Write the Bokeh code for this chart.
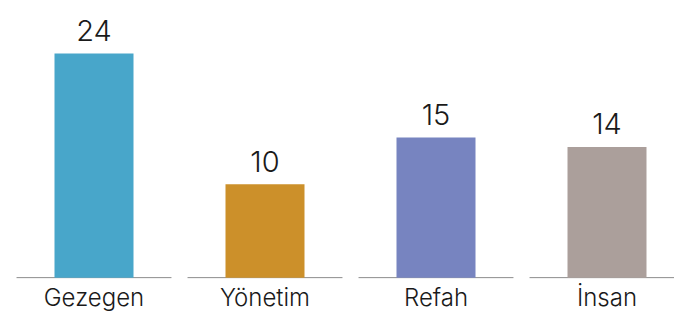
from bokeh.plotting import figure
from bokeh.models import Range1d, FixedTicker, ColumnDataSource
from bokeh.core.properties import value
from bokeh.embed import file_html
from bokeh.resources import INLINE

categories = ["Gezegen", "Yönetim", "Refah", "İnsan"]
values = [24, 10, 15, 14]
colors = ["#48A6CA", "#CC902A", "#7784C0", "#AB9F9B"]

idx = list(range(len(categories)))
FONT = "'Inter Light', Inter, sans-serif"

src = ColumnDataSource(dict(
    x=idx, top=values, color=colors,
    label=[str(v) for v in values],
    x0=[i - 0.453 for i in idx], x1=[i + 0.453 for i in idx],
    zero=[0] * len(idx),
))

p = figure(frame_width=666, frame_height=271,
           x_range=Range1d(-0.5, -0.5 + 666 / 171),
           y_range=Range1d(-0.2, 28.83),
           output_backend="svg", toolbar_location=None,
           min_border=0, min_border_left=8, min_border_right=0,
           min_border_top=8, min_border_bottom=0)

p.segment(x0="x0", y0="zero", x1="x1", y1="zero", source=src,
          line_color="#8c8c8c", line_width=1)
p.vbar(x="x", top="top", bottom=0, width=0.462, color="color",
       line_color=None, source=src)
p.text(x="x", y="top", text="label", source=src,
       text_font=value(FONT), text_font_size="29px",
       text_color="#1a1a1a", text_align="center",
       text_baseline="alphabetic", y_offset=-23)

p.xaxis.ticker = FixedTicker(ticks=idx)
p.xaxis.major_label_overrides = {i: c for i, c in zip(idx, categories)}
p.xaxis.major_label_text_font = FONT
p.xaxis.major_label_text_font_size = "24px"
p.xaxis.major_label_text_color = "#1a1a1a"
p.xaxis.major_label_standoff = 3
p.xaxis.axis_line_color = None
p.xaxis.major_tick_line_color = None
p.xaxis.minor_tick_line_color = None
p.xaxis.major_tick_out = 0
p.xaxis.major_tick_in = 0
p.yaxis.visible = False
p.xgrid.visible = False
p.ygrid.visible = False
p.outline_line_color = None
p.background_fill_color = "white"
p.border_fill_color = "white"

open("out.html", "w").write(file_html(p, INLINE))
